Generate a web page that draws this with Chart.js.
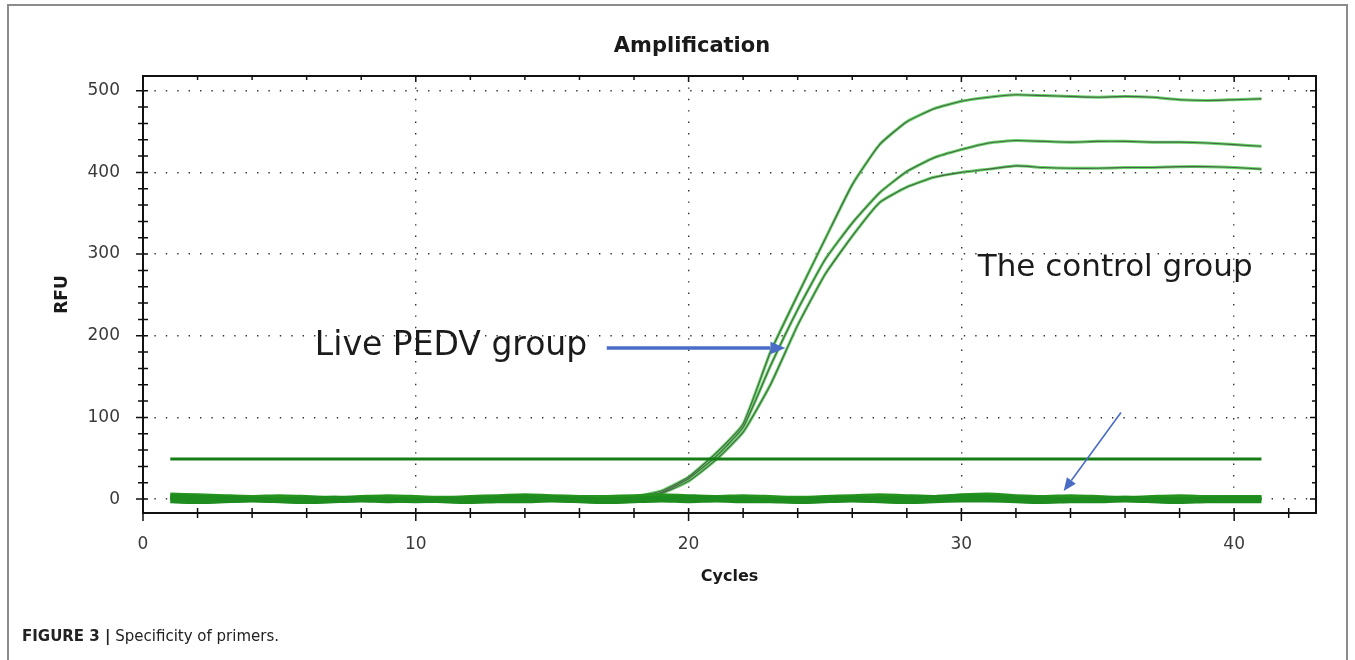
<!DOCTYPE html>
<html>
<head>
<meta charset="utf-8">
<script src="https://cdn.jsdelivr.net/npm/chart.js@4.4.0/dist/chart.umd.min.js"></script>
<style>
  html, body { margin: 0; padding: 0; background: #fff; overflow: hidden; }
  #wrap { position: relative; width: 1355px; height: 660px; }
  #frame { position: absolute; left: 7px; top: 4px; width: 1341px; height: 720px; border: 2px solid #8c8c8c; box-sizing: border-box; }
  #amp { position: absolute; left: 0; top: 0; }
  #cap { position: absolute; left: 22px; top: 627px; font: 15px "DejaVu Sans", sans-serif; color: #222; white-space: nowrap; }
</style>
</head>
<body>
<div id="wrap">
  <div id="frame"></div>
  <canvas id="amp" width="1355" height="660"></canvas>
  <div id="cap"><b>FIGURE 3 |</b> Specificity of primers.</div>
</div>
<script>
// cycle numbers on the x axis
var cycles = [1,2,3,4,5,6,7,8,9,10,11,12,13,14,15,16,17,18,19,20,21,22,23,24,25,26,27,28,29,30,31,32,33,34,35,36,37,38,39,40,41];

// Live PEDV group, three amplification curves (RFU)
var pedvHigh = [0,1,0,-1,0,1,0,0,-1,0,1,0,0,1,0,1,1,3,10,27,56,92,180,250,318,385,434,462,478,487,492,495,494,493,492,493,492,489,488,489,490];
var pedvMid  = [1,0,0,1,-1,0,1,0,0,-1,0,1,0,0,1,0,1,2,8,25,52,88,163,232,293,338,375,401,418,428,436,439,438,437,438,438,437,437,436,434,432];
var pedvLow  = [0,0,1,0,0,-1,0,1,0,0,-1,0,1,0,0,1,0,2,7,22,48,82,140,213,275,322,363,382,394,400,404,408,406,405,405,406,406,407,407,406,404];

// the control group, flat noisy traces (RFU)
var ctrlA = [3,2,1,0,-1,0,1,0,-1,-2,-1,0,1,2,1,0,-1,0,1,2,1,0,-1,-1,0,1,0,1,2,3,2,1,0,-1,0,1,0,-1,0,1,1];
var ctrlB = [-2,-3,-2,-1,-2,-3,-2,-1,-2,-1,-2,-3,-2,-2,-1,-2,-3,-2,-1,-2,-1,-2,-2,-3,-2,-1,-2,-3,-2,-1,-1,-2,-3,-2,-2,-1,-2,-3,-2,-2,-2];
var ctrlC = [5,4,3,2,3,2,1,2,3,2,1,2,3,4,3,2,2,3,4,3,2,3,2,1,2,3,4,3,2,4,5,3,2,3,2,1,2,3,2,2,2];

// threshold line
var thresholdCycles = [1, 41];
var thresholdRfu = 49;

// tick labels
var xTicks = [0, 10, 20, 30, 40];
var yTicks = [0, 100, 200, 300, 400, 500];

// annotations, placed in data units
var noteLabels = [
  { text: 'Live PEDV group', cycle: 6.3, rfu: 176, size: 33 },
  { text: 'The control group', cycle: 30.6, rfu: 273, size: 31 }
];
var noteArrows = [
  { from: [17.0, 185], to: [23.55, 185], width: 3.5, head: 15 },
  { from: [35.85, 106], to: [33.75, 10], width: 1.6, head: 13 }
];

function pts(vals) {
  return cycles.map(function (c, i) { return { x: c, y: vals[i] }; });
}

function line(label, data, color, width) {
  return {
    label: label, data: data, borderColor: color, borderWidth: width,
    pointRadius: 0, fill: false, tension: 0.15, borderJoinStyle: 'round'
  };
}

var datasets = [
  line('Threshold', thresholdCycles.map(function (c) { return { x: c, y: thresholdRfu }; }), '#167d16', 3),
  line('Control 1', pts(ctrlA), '#1e8c1e', 5),
  line('Control 2', pts(ctrlB), '#1e8c1e', 5),
  line('Control 3', pts(ctrlC), '#25951f', 5),
  line('PEDV 1', pts(pedvHigh), '#4a634a', 1.1),
  line('PEDV 2', pts(pedvMid), '#4a634a', 1.1),
  line('PEDV 3', pts(pedvLow), '#4a634a', 1.1),
  line('PEDV 1 edge', pts(pedvHigh), '#66d466', 3),
  line('PEDV 2 edge', pts(pedvMid), '#66d466', 3),
  line('PEDV 3 edge', pts(pedvLow), '#66d466', 3)
];

// plot frame with minor and major tick marks on all four sides
var frameTicks = {
  id: 'frameTicks',
  afterDraw: function (chart) {
    var ctx = chart.ctx, a = chart.chartArea, x = chart.scales.x, y = chart.scales.y;
    ctx.save();
    ctx.strokeStyle = '#111';
    ctx.lineWidth = 2;
    ctx.strokeRect(a.left, a.top, a.right - a.left, a.bottom - a.top);
    ctx.lineWidth = 1.5;
    ctx.beginPath();
    for (var c = 0; c <= x.max; c += 2) {
      var px = x.getPixelForValue(c), major = c % 10 === 0;
      ctx.moveTo(px, a.bottom - 5); ctx.lineTo(px, a.bottom + (major ? 8 : 5));
      ctx.moveTo(px, a.top); ctx.lineTo(px, a.top + (major ? 6 : 4));
    }
    for (var v = 0; v <= y.max; v += 20) {
      var py = y.getPixelForValue(v), maj = v % 100 === 0;
      ctx.moveTo(a.left - (maj ? 7 : 5), py); ctx.lineTo(a.left + 5, py);
      ctx.moveTo(a.right, py); ctx.lineTo(a.right - (maj ? 6 : 4), py);
    }
    ctx.stroke();
    // chart title
    ctx.font = 'bold 21px "DejaVu Sans"';
    ctx.fillStyle = '#1a1a1a';
    ctx.textAlign = 'center';
    ctx.textBaseline = 'middle';
    ctx.fillText('Amplification', 692, 47);
    ctx.restore();
  }
};

var notes = {
  id: 'notes',
  afterDatasetsDraw: function (chart) {
    var ctx = chart.ctx, x = chart.scales.x, y = chart.scales.y;
    ctx.save();
    noteLabels.forEach(function (n) {
      ctx.font = n.size + 'px "DejaVu Sans"';
      ctx.fillStyle = '#1b1b1b';
      ctx.textBaseline = 'alphabetic';
      ctx.fillText(n.text, x.getPixelForValue(n.cycle), y.getPixelForValue(n.rfu));
    });
    noteArrows.forEach(function (ar) {
      var x0 = x.getPixelForValue(ar.from[0]), y0 = y.getPixelForValue(ar.from[1]);
      var x1 = x.getPixelForValue(ar.to[0]), y1 = y.getPixelForValue(ar.to[1]);
      var ang = Math.atan2(y1 - y0, x1 - x0), hw = ar.head * 0.42;
      var bx = x1 - ar.head * Math.cos(ang), by = y1 - ar.head * Math.sin(ang);
      ctx.strokeStyle = '#4a6cc6';
      ctx.fillStyle = '#4a6cc6';
      ctx.lineWidth = ar.width;
      ctx.beginPath(); ctx.moveTo(x0, y0); ctx.lineTo(bx, by); ctx.stroke();
      ctx.beginPath();
      ctx.moveTo(x1, y1);
      ctx.lineTo(bx - hw * Math.sin(ang), by + hw * Math.cos(ang));
      ctx.lineTo(bx + hw * Math.sin(ang), by - hw * Math.cos(ang));
      ctx.closePath(); ctx.fill();
    });
    ctx.restore();
  }
};

var tickFont = { family: '"DejaVu Sans"', size: 17 };
var gridOpts = { color: '#333', lineWidth: 1.4, drawTicks: false };

new Chart(document.getElementById('amp').getContext('2d'), {
  type: 'line',
  data: { datasets: datasets },
  options: {
    responsive: false,
    animation: false,
    devicePixelRatio: 1,
    layout: { padding: { left: 0, right: 39, top: 76, bottom: 67 } },
    plugins: { legend: { display: false }, tooltip: { enabled: false }, title: { display: false } },
    scales: {
      x: {
        type: 'linear', min: 0, max: 43,
        afterBuildTicks: function (s) { s.ticks = xTicks.map(function (v) { return { value: v }; }); },
        afterFit: function (s) { s.height = 80; },
        grid: gridOpts,
        border: { display: false, dash: [1.4, 10] },
        ticks: { font: tickFont, color: '#3a3a3a', padding: 21, maxRotation: 0 },
        title: { display: true, text: 'Cycles', color: '#1a1a1a', font: { family: '"DejaVu Sans"', size: 16, weight: 'bold' }, padding: { top: 0, bottom: 6.4 } }
      },
      y: {
        type: 'linear', min: -17, max: 518,
        afterBuildTicks: function (s) { s.ticks = yTicks.map(function (v) { return { value: v }; }); },
        afterFit: function (s) { s.width = 143; },
        grid: gridOpts,
        border: { display: false, dash: [1.4, 10] },
        ticks: { font: tickFont, color: '#3a3a3a', padding: 23 },
        title: { display: true, text: 'RFU', color: '#1a1a1a', font: { family: '"DejaVu Sans"', size: 17, weight: 'bold' }, padding: { top: 52.8, bottom: 0 } }
      }
    }
  },
  plugins: [frameTicks, notes]
});
</script>
</body>
</html>
